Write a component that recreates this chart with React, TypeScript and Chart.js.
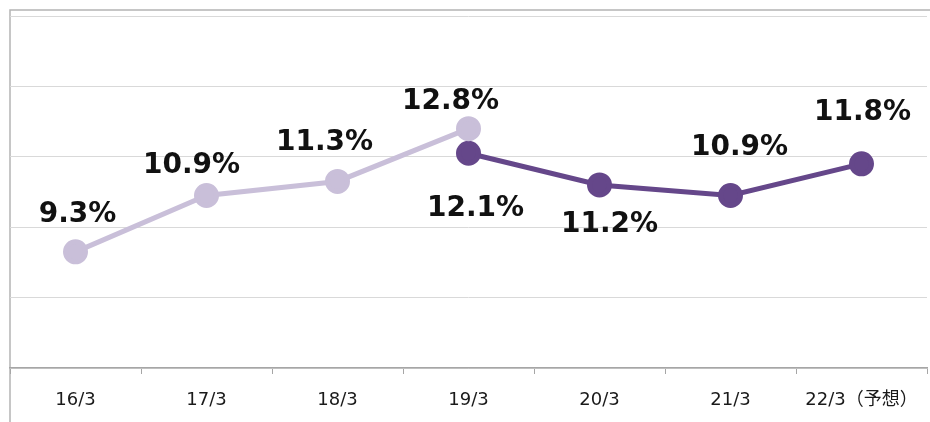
import React, { useEffect, useRef } from "react";
import { Chart, registerables } from "chart.js";

Chart.register(...registerables);

const categories = ["16/3", "17/3", "18/3", "19/3", "20/3", "21/3", "22/3（予想）"];
const actualOld = [9.3, 10.9, 11.3, 12.8, null, null, null];
const actualNew = [null, null, null, 12.1, 11.2, 10.9, 11.8];
const yMin = 6;
const yMax = 16;
const yStep = 2;

// label placement offsets relative to each point (style, not data)
const labelOffsetsOld = [
  [2, -37],
  [-15, -30],
  [-13, -39],
  [-18, -27],
];
const labelOffsetsNew: Record<number, number[]> = {
  3: [7, 55],
  4: [10, 40],
  5: [9, -48],
  6: [1, -51],
};

const LIGHT = "#C9BFD9";
const DARK = "#65478A";
const FONT = "'DejaVu Sans', Verdana, 'Noto Sans CJK JP', sans-serif";

const framePlugin = {
  id: "frame",
  beforeDraw(chart: any) {
    const { ctx, chartArea, width, height } = chart;
    ctx.save();
    ctx.strokeStyle = "#b4b4b4";
    ctx.lineWidth = 1.5;
    ctx.beginPath();
    const top = chartArea.top - 6;
    ctx.moveTo(chartArea.left, height);
    ctx.lineTo(chartArea.left, top);
    ctx.lineTo(width, top);
    ctx.stroke();
    ctx.restore();
  },
};

const labelPlugin = {
  id: "valueLabels",
  afterDatasetsDraw(chart: any) {
    const { ctx } = chart;
    ctx.save();
    ctx.font = `bold 28px ${FONT}`;
    ctx.fillStyle = "#111111";
    ctx.textAlign = "center";
    ctx.textBaseline = "middle";
    chart.data.datasets.forEach((ds: any, di: number) => {
      const meta = chart.getDatasetMeta(di);
      meta.data.forEach((pt: any, i: number) => {
        const v = ds.data[i];
        if (v === null || v === undefined) return;
        const off = di === 0 ? labelOffsetsOld[i] : labelOffsetsNew[i];
        if (!off) return;
        ctx.fillText(v.toFixed(1) + "%", pt.x + off[0], pt.y + off[1]);
      });
    });
    ctx.restore();
  },
};

export default function App() {
  const ref = useRef<HTMLCanvasElement | null>(null);
  useEffect(() => {
    if (!ref.current) return;
    const chart = new Chart(ref.current, {
      type: "line",
      data: {
        labels: categories,
        datasets: [
          {
            data: actualOld,
            borderColor: LIGHT,
            backgroundColor: LIGHT,
            pointBackgroundColor: LIGHT,
            pointBorderColor: LIGHT,
            borderWidth: 5,
            pointRadius: 10,
            pointHoverRadius: 10,
            spanGaps: false,
            clip: false,
          },
          {
            data: actualNew,
            borderColor: DARK,
            backgroundColor: DARK,
            pointBackgroundColor: DARK,
            pointBorderColor: DARK,
            borderWidth: 5,
            pointRadius: 10,
            pointHoverRadius: 10,
            spanGaps: false,
            clip: false,
          },
        ],
      },
      options: {
        responsive: false,
        animation: false,
        layout: { autoPadding: false, padding: { top: 16, left: 10, right: 3, bottom: 0 } },
        plugins: {
          legend: { display: false },
          tooltip: { enabled: false },
        },
        scales: {
          x: {
            offset: true,
            grid: {
              offset: true,
              drawOnChartArea: false,
              drawTicks: true,
              tickLength: 6,
              color: "#a6a6a6",
            },
            border: { color: "#a6a6a6", width: 1.5 },
            ticks: {
              color: "#1a1a1a",
              font: { family: FONT, size: 18 },
              padding: 16,
              maxRotation: 0,
              autoSkip: false,
            },
            afterFit(scale: any) {
              scale.height = 54;
              scale.paddingLeft = 0;
              scale.paddingRight = 0;
            },
          },
          y: {
            min: yMin,
            max: yMax,
            ticks: { display: false, stepSize: yStep, padding: 0 },
            grid: { color: "#d9d9d9", drawTicks: false, lineWidth: 1 },
            border: { display: false },
            afterFit(scale: any) {
              scale.width = 0;
              scale.paddingTop = 0;
              scale.paddingBottom = 0;
            },
          },
        },
      },
      plugins: [framePlugin, labelPlugin],
    } as any);
    return () => chart.destroy();
  }, []);
  return (
    <div style={{ position: "fixed", left: 0, top: 0, width: 930, height: 422, background: "#fff" }}>
      <canvas ref={ref} width={930} height={422} />
    </div>
  );
}
